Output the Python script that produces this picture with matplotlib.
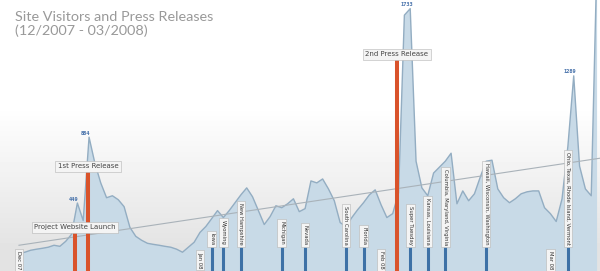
import numpy as np
import matplotlib.pyplot as plt

# daily visitors, day 0 = 1 Dec 2007
visitors = [118, 124, 137, 144, 150, 157, 170, 163, 196, 242,
            449, 333, 884, 712, 582, 484, 497, 471, 425, 288,
            229, 203, 183, 176, 170, 163, 157, 144, 124, 157,
            190, 255, 294, 346, 399, 353, 399, 451, 503, 549,
            490, 399, 307, 359, 431, 418, 444, 477, 392, 412,
            595, 582, 608, 542, 464, 320, 294, 353, 405, 451,
            503, 536, 438, 353, 379, 516, 1690, 1733, 725, 549,
            497, 647, 686, 725, 778, 444, 529, 464, 510, 621,
            725, 732, 542, 484, 451, 477, 510, 523, 529, 529,
            418, 379, 327, 477, 824, 1289, 693, 542, 497, 2100]
days = np.arange(len(visitors))

trend_days = [0, 99.5]
trend_vals = [170, 745]

peak_days = [10, 12, 67, 95]

press_days = [9.6, 11.8, 64.7]
press_labels = ['Project Website Launch', '1st Press Release', '2nd Press Release']

primary_days = [33, 35, 38, 45, 49, 56, 59, 67, 70, 73, 80, 94]
primary_labels = ['Iowa', 'Wyoming', 'New Hampshire', 'Michigan', 'Nevada',
                  'South Carolina', 'Florida', 'Super Tuesday', 'Kansas, Louisiana',
                  'Columbia, Maryland, Virginia', 'Hawaii, Wisconsin, Washington',
                  'Ohio, Texas, Rhode Island, Vermont']

month_days = [0, 31, 62, 91]
month_labels = ['Dec 07', 'Jan 08', 'Feb 08', 'Mar 08']

fig = plt.figure(figsize=(6, 2.71), dpi=100)
ax = fig.add_axes([0, 0, 1, 1])
ymax = 1790
x0, x1 = -3.25, 99.5
ax.axis('off')

# background gradient: white on top, light grey lower down (row 0 = top)
h = np.linspace(0, 1, 271)
g = np.clip((h - 0.39) / (0.92 - 0.39), 0, 1)
shade = 1.0 - 0.11 * g
img = np.repeat(shade[:, None], 2, axis=1)
ax.imshow(img, cmap='gray', vmin=0, vmax=1, extent=(x0, x1, 0, ymax),
          origin='upper', aspect='auto', zorder=0)
ax.set_xlim(x0, x1)
ax.set_ylim(0, ymax)

ax.fill_between(days, visitors, 0, color='#c8dae7', zorder=1, lw=0)
ax.plot(days, visitors, color='#93adc2', lw=1.0, zorder=2)
ax.plot(trend_days, trend_vals, color='#a9b2b9', lw=0.8, zorder=3)

# value labels on peaks
for d in peak_days:
    ax.annotate(str(visitors[d]), (d, visitors[d]), xytext=(-2.5, 1),
                textcoords='offset points', ha='center', va='bottom',
                fontsize=3.3, color='#4d76ad', fontweight='bold', zorder=6)

box = dict(boxstyle='square,pad=0.35', fc='#f4f4f4', ec='#b5b5b5', lw=0.4)

# press releases (red)
press_y = [288, 693, 1431]
for d, lab, y in zip(press_days, press_labels, press_y):
    ax.plot([d, d], [0, y], color='#d9532b', lw=2.9, zorder=4,
            solid_capstyle='butt')
    ax.text(d, y, lab, ha='center', va='center', fontsize=5,
            color='#444444', bbox=box, zorder=5)

# primaries (blue)
for d, lab in zip(primary_days, primary_labels):
    ax.plot([d, d], [0, 157], color='#3d71a6', lw=2.2, zorder=4,
            solid_capstyle='butt')
    ax.text(d, 172, lab, ha='center', va='bottom', rotation=270,
            fontsize=3.8, color='#333333', bbox=box, zorder=5)

# month markers
for d, lab in zip(month_days, month_labels):
    ax.text(d, 72, lab, ha='center', va='center', rotation=270,
            fontsize=3.8, color='#333333', bbox=box, zorder=5)

fig.text(15 / 600, 1 - 11 / 271,
         'Site Visitors and Press Releases\n(12/2007 - 03/2008)',
         ha='left', va='top', fontsize=10.4, color='#999999',
         family=['Lato', 'DejaVu Sans'], linespacing=1.1)

fig.savefig('out.png', dpi=100)
